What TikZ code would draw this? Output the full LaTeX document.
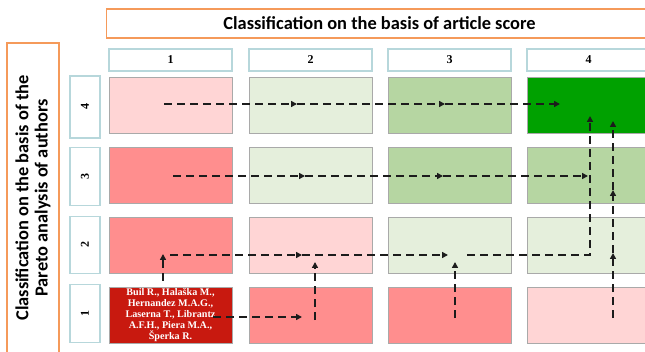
\documentclass[tikz,border=0pt]{standalone}
\usepackage{fontspec}
\setmainfont{Liberation Serif}
\newfontfamily\headfont{Carlito}
\usetikzlibrary{arrows.meta,positioning}

\definecolor{pinkL}{HTML}{FFD5D5}
\definecolor{salmon}{HTML}{FF8E8E}
\definecolor{redD}{HTML}{C8190F}
\definecolor{greenL}{HTML}{E5EFDC}
\definecolor{greenM}{HTML}{B6D6A2}
\definecolor{greenD}{HTML}{00A100}
\definecolor{cellline}{HTML}{A9A9A9}
\definecolor{tealline}{HTML}{B7D7DB}
\definecolor{orangeline}{HTML}{F59A5A}
\definecolor{flowcol}{HTML}{1C1C1C}

\tikzset{
  cell/.style={draw=cellline, line width=0.5pt, minimum width=92.25pt, minimum height=42pt, inner sep=0pt},
  colhdr/.style={draw=tealline, line width=0.8pt, fill=white, minimum width=92.25pt, minimum height=16.5pt, inner sep=0pt, font=\bfseries\fontsize{9}{9}\selectfont},
  rowhdr/.style={draw=tealline, line width=0.8pt, fill=white, rotate=90, minimum width=43pt, minimum height=22.5pt, inner sep=0pt, font=\bfseries\fontsize{9}{9}\selectfont},
  bigbox/.style={draw=orangeline, line width=0.9pt, fill=white, inner sep=0pt, font=\headfont\bfseries\fontsize{13.8}{14.3}\selectfont},
  flow/.style={flowcol, line width=1.5pt, dash pattern=on 6pt off 3.75pt, -{Triangle[length=4.5pt,width=4.5pt]}}
}

\begin{document}
\begin{tikzpicture}[x=0.75pt,y=-0.75pt]
    \useasboundingbox[fill=white] (0,0) rectangle (645,352);

    % Headers
    \node[bigbox, minimum width=409pt, minimum height=21.75pt] (title) at (379.5,23.5) {Classification on the basis of article score};
    \node[bigbox, minimum width=232.5pt, minimum height=39pt, rotate=90, align=center] (ylab) at (33,198) {Classification on the basis of the\\Pareto analysis of authors};

    \node[colhdr] (h1) at (170.5,60) {1};
    \node[colhdr] (h2) at (310.5,60) {2};
    \node[colhdr] (h3) at (449.5,60) {3};
    \node[colhdr] (h4) at (588.5,60) {4};

    \node[rowhdr, minimum width=46.5pt] (v4) at (85,107) {4};
    \node[rowhdr] (v3) at (85,176.5) {3};
    \node[rowhdr] (v2) at (85,245) {2};
    \node[rowhdr] (v1) at (85,313.5) {1};

    % Cells (row, column)
    \node[cell, fill=pinkL]  (c41) at (170.5,105) {};
    \node[cell, fill=greenL] (c42) at (310.5,105) {};
    \node[cell, fill=greenM] (c43) at (449.5,105) {};
    \node[cell, fill=greenD] (c44) at (588.5,105) {};

    \node[cell, fill=salmon] (c31) at (170.5,175) {};
    \node[cell, fill=greenL] (c32) at (310.5,175) {};
    \node[cell, fill=greenM] (c33) at (449.5,175) {};
    \node[cell, fill=greenM] (c34) at (588.5,175) {};

    \node[cell, fill=salmon] (c21) at (170.5,245) {};
    \node[cell, fill=pinkL]  (c22) at (310.5,245) {};
    \node[cell, fill=greenL] (c23) at (449.5,245) {};
    \node[cell, fill=greenL] (c24) at (588.5,245) {};

    \node[cell, fill=redD, text=white, align=center, font=\bfseries\fontsize{7.6}{8.1}\selectfont] (c11) at (170.5,315)
        {Buil R., Hala\v{s}ka M.,\\Hernandez M.A.G.,\\Laserna T., Librantz\\A.F.H., Piera M.A.,\\\v{S}perka R.};
    \node[cell, fill=salmon] (c12) at (310.5,315) {};
    \node[cell, fill=salmon] (c13) at (449.5,315) {};
    \node[cell, fill=pinkL]  (c14) at (588.5,315) {};

    % Flow points
    \coordinate (p4a) at (164,104);
    \coordinate (p4b) at (297,104);
    \coordinate (p4c) at (445,104);
    \coordinate (p4d) at (560,104);

    \coordinate (p3a) at (173,176);
    \coordinate (p3b) at (305,176);
    \coordinate (p3c) at (443,176);
    \coordinate (p3d) at (588,176);

    \coordinate (p2s) at (163,281);
    \coordinate (p2t) at (163,254);
    \coordinate (p2a) at (170,255);
    \coordinate (p2b) at (302,255);
    \coordinate (p2c) at (448,255);
    \coordinate (p2d) at (467,255);
    \coordinate (p2e) at (590,255);
    \coordinate (p2f) at (590,116);

    \coordinate (p1a) at (213,317);
    \coordinate (p1b) at (302,317);
    \coordinate (q2s) at (315,320);
    \coordinate (q2t) at (315,262);
    \coordinate (q3s) at (455,318);
    \coordinate (q3t) at (455,262);
    \coordinate (q4s) at (613,318);
    \coordinate (q4a) at (613,253);
    \coordinate (q4b) at (613,190);
    \coordinate (q4c) at (613,121);

    % Row 4 and row 3 paths
    \draw[flow] (p4a) -- (p4b);
    \draw[flow] (p4b) -- (p4c);
    \draw[flow] (p4c) -- (p4d);
    \draw[flow] (p3a) -- (p3b);
    \draw[flow] (p3b) -- (p3c);
    \draw[flow] (p3c) -- (p3d);

    % Row 2 path
    \draw[flow] (p2s) -- (p2t);
    \draw[flow] (p2a) -- (p2b);
    \draw[flow] (p2b) -- (p2c);
    \draw[flow] (p2d) -- (p2e) -- (p2f);

    % Row 1 paths
    \draw[flow] (p1a) -- (p1b);
    \draw[flow] (q2s) -- (q2t);
    \draw[flow] (q3s) -- (q3t);
    \draw[flow] (q4s) -- (q4a);
    \draw[flow] (q4a) -- (q4b);
    \draw[flow] (q4b) -- (q4c);
\end{tikzpicture}
\end{document}
